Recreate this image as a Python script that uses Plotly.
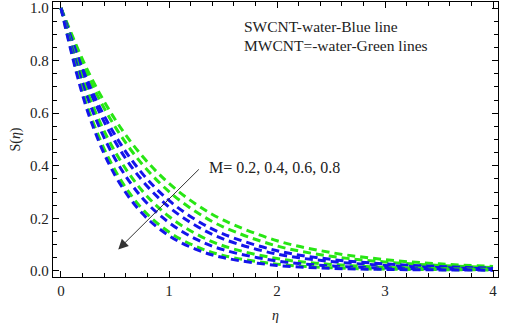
import plotly.graph_objects as go

eta = [0, 0.25, 0.5, 0.75, 1, 1.25, 1.5, 2, 2.5, 3, 3.5, 4]

green_1 = [1, 0.760, 0.577, 0.438, 0.333, 0.254, 0.194, 0.115, 0.070, 0.043, 0.027, 0.017]
green_2 = [1, 0.741, 0.549, 0.407, 0.302, 0.225, 0.168, 0.095, 0.056, 0.034, 0.021, 0.013]
blue_1 = [1, 0.719, 0.517, 0.372, 0.268, 0.194, 0.141, 0.077, 0.044, 0.027, 0.017, 0.010]
blue_2 = [1, 0.701, 0.492, 0.345, 0.243, 0.172, 0.122, 0.064, 0.036, 0.021, 0.013, 0.008]
green_3 = [1, 0.674, 0.454, 0.306, 0.207, 0.141, 0.096, 0.047, 0.025, 0.014, 0.009, 0.006]
blue_3 = [1, 0.654, 0.427, 0.279, 0.184, 0.121, 0.081, 0.038, 0.019, 0.011, 0.007, 0.005]
green_4 = [1, 0.619, 0.383, 0.237, 0.148, 0.093, 0.059, 0.026, 0.012, 0.007, 0.005, 0.004]
blue_4 = [1, 0.603, 0.364, 0.220, 0.134, 0.082, 0.051, 0.021, 0.010, 0.006, 0.004, 0.003]

series = [
    ("MWCNT M=0.2", green_1, "rgb(40,230,20)"),
    ("MWCNT M=0.4", green_2, "rgb(40,230,20)"),
    ("SWCNT M=0.2", blue_1, "rgb(20,20,235)"),
    ("SWCNT M=0.4", blue_2, "rgb(20,20,235)"),
    ("MWCNT M=0.6", green_3, "rgb(40,230,20)"),
    ("SWCNT M=0.6", blue_3, "rgb(20,20,235)"),
    ("MWCNT M=0.8", green_4, "rgb(40,230,20)"),
    ("SWCNT M=0.8", blue_4, "rgb(20,20,235)"),
]

fig = go.Figure()
for name, vals, col in series:
    fig.add_trace(go.Scatter(x=eta, y=vals, mode="lines", name=name,
                             line=dict(color=col, width=3, dash="8px,5px", shape="spline", smoothing=1.0)))

font = "Liberation Serif, Times New Roman, serif"
axis_common = dict(showline=True, linecolor="black", linewidth=1.3, mirror="allticks",
                   ticks="inside", ticklen=6, tickwidth=1, tickcolor="black",
                   showgrid=False, zeroline=False, automargin=False,
                   tickfont=dict(family=font, size=15, color="#222"))

fig.update_xaxes(range=[-0.074, 4.046], tickvals=[0, 1, 2, 3, 4],
                 minor=dict(dtick=0.2, tick0=0, ticks="inside", ticklen=3.5, tickcolor="black", showgrid=False),
                 title=dict(text="<i>η</i>", font=dict(family=font, size=14, color="#222"), standoff=12),
                 **axis_common)
fig.update_yaxes(range=[-0.023, 1.023], tickvals=[0, 0.2, 0.4, 0.6, 0.8, 1.0],
                 ticktext=["0.0", "0.2", "0.4", "0.6", "0.8", "1.0"],
                 minor=dict(dtick=0.05, tick0=0, ticks="inside", ticklen=3.5, tickcolor="black", showgrid=False),
                 title=dict(text="S(<i>η</i>)", font=dict(family=font, size=14, color="#222"), standoff=6),
                 **axis_common)

fig.add_annotation(x=0.53, y=0.082, ax=1.29, ay=0.392, xref="x", yref="y", axref="x", ayref="y",
                   text="", showarrow=True, arrowhead=2, arrowsize=2, arrowwidth=1, arrowcolor="#333")
fig.add_annotation(x=1.35, y=0.393, xref="x", yref="y", text="M= 0.2, 0.4, 0.6, 0.8",
                   showarrow=False, xanchor="left", yanchor="middle",
                   font=dict(family=font, size=16, color="#222"))
fig.add_annotation(x=(242 - 53) / 445, y=(277 - 26) / 275, xref="paper", yref="paper",
                   text="SWCNT-water-Blue line", showarrow=False, xanchor="left", yanchor="middle",
                   font=dict(family=font, size=15.5, color="#222"))
fig.add_annotation(x=(242 - 53) / 445, y=(277 - 45) / 275, xref="paper", yref="paper",
                   text="MWCNT=-water-Green lines", showarrow=False, xanchor="left", yanchor="middle",
                   font=dict(family=font, size=15.5, color="#222"))

fig.update_layout(width=505, height=324, margin=dict(l=53, r=7, t=2, b=47),
                  paper_bgcolor="white", plot_bgcolor="white", showlegend=False)

fig.write_html("out.html", config={"displayModeBar": False},
               post_script="document.body.style.margin='0px';")
